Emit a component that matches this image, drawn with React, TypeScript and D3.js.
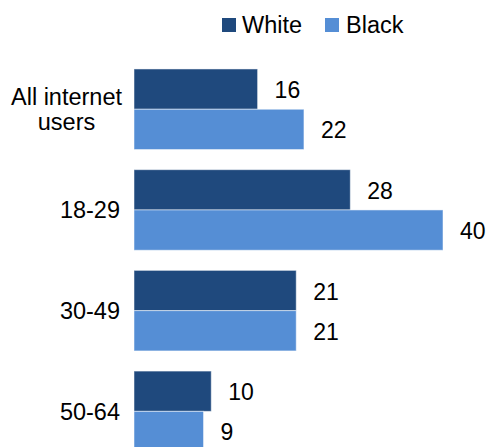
import React from "react";
import * as d3 from "d3";

const categories = ["All internet users", "18-29", "30-49", "50-64"];
const categoryLines = [["All internet", "users"], ["18-29"], ["30-49"], ["50-64"]];
const seriesNames = ["White", "Black"];
const whiteValues = [16, 28, 21, 10];
const blackValues = [22, 40, 21, 9];
const colors = ["#1F497D", "#558ED5"];

const W = 489;
const H = 447;
const FONT = "'Liberation Sans', Arial, sans-serif";

export default function App() {
  const x = d3.scaleLinear().domain([0, 40]).range([134, 443]);
  const y = d3
    .scaleBand<string>()
    .domain(categories)
    .range([58.9, 461.7])
    .paddingInner(0.2)
    .paddingOuter(0.1);
  const sub = d3.scaleBand<string>().domain(seriesNames).range([0, y.bandwidth()]);
  const series = [whiteValues, blackValues];

  return (
    <svg
      width={W}
      height={H}
      style={{ position: "absolute", left: 0, top: 0, background: "#fff" }}
      fontFamily={FONT}
    >
      {/* legend */}
      <g>
        <rect x={222} y={18} width={14} height={14} fill={colors[0]} />
        <text x={242} y={33} fontSize={23.5} fill="#000">White</text>
        <rect x={325} y={18} width={14} height={14} fill={colors[1]} />
        <text x={346} y={33} fontSize={23.5} fill="#000">Black</text>
      </g>
      {categories.map((c, i) => {
        const y0 = y(c)!;
        const cy = y0 + y.bandwidth() / 2;
        const lines = categoryLines[i];
        return (
          <g key={c}>
            {series.map((vals, s) => {
              const by = y0 + sub(seriesNames[s])!;
              const bh = sub.bandwidth();
              return (
                <g key={s}>
                  <rect
                    x={x(0)}
                    y={by}
                    width={x(vals[i]) - x(0)}
                    height={bh}
                    fill={colors[s]}
                    stroke="#ffffff"
                    strokeOpacity={0.5}
                    strokeWidth={1}
                  />
                  <text
                    x={x(vals[i]) + 17}
                    y={by + bh / 2 + 9}
                    fontSize={23}
                    fill="#000"
                  >
                    {vals[i]}
                  </text>
                </g>
              );
            })}
            {lines.length === 1 ? (
              <text x={120} y={cy + 8.5} fontSize={23.5} textAnchor="end" fill="#000">
                {lines[0]}
              </text>
            ) : (
              <text fontSize={23.5} fill="#000" textAnchor="middle">
                <tspan x={66.5} y={cy - 4.5}>{lines[0]}</tspan>
                <tspan x={66.5} y={cy + 20.5}>{lines[1]}</tspan>
              </text>
            )}
          </g>
        );
      })}
    </svg>
  );
}
